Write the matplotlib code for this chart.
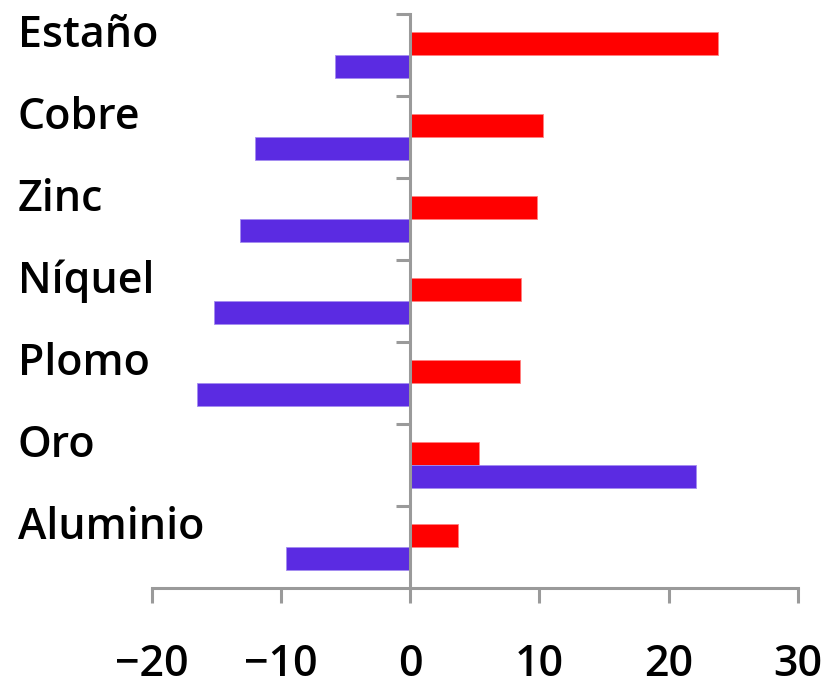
import numpy as np
import matplotlib
matplotlib.use("Agg")
import matplotlib.pyplot as plt
from matplotlib.transforms import blended_transform_factory

metales = ["Estaño", "Cobre", "Zinc", "Níquel", "Plomo", "Oro", "Aluminio"]
serie_roja = [23.8, 10.3, 9.8, 8.6, 8.5, 5.3, 3.7]
serie_azul = [-5.85, -12.0, -13.2, -15.2, -16.5, 22.1, -9.6]
xticks = [-20, -10, 0, 10, 20, 30]

plt.rcParams['font.family'] = ['Open Sans', 'DejaVu Sans']
plt.rcParams['font.weight'] = 'semibold'

fig = plt.figure(figsize=(8.31, 6.86), dpi=100)
ax = fig.add_axes([0.1826, 0.1429, 0.7774, 0.8367])

y = np.arange(len(metales))
h = 0.28
ax.barh(y - h / 2, serie_roja, height=h, color="#ff0000", edgecolor="#ff8080", linewidth=0.6)
ax.barh(y + h / 2, serie_azul, height=h, color="#5b2be2", edgecolor="#a48cf0", linewidth=0.6)

ax.set_ylim(len(metales) - 0.5, -0.5)
ax.set_xlim(-20, 30)

gris = "#9a9a9a"
for s in ["top", "right"]:
    ax.spines[s].set_visible(False)
ax.spines["left"].set_position(("data", 0))
ax.spines["left"].set_color(gris)
ax.spines["left"].set_linewidth(2.2)
ax.spines["bottom"].set_color(gris)
ax.spines["bottom"].set_linewidth(2.2)

ax.set_yticks(np.arange(len(metales)) - 0.5)
ax.set_yticklabels([])
ax.tick_params(axis="y", direction="out", length=10, width=2.2, color=gris)

ax.set_xticks(xticks)
ax.set_xticklabels([str(t).replace("-", "\u2212") for t in xticks])
ax.tick_params(axis="x", direction="out", length=10.5, width=2.2, color=gris,
               pad=29, labelsize=31)

trans = blended_transform_factory(fig.transFigure, ax.transData)
for i, m in enumerate(metales):
    ax.text(18 / 831, i - 0.24, m, transform=trans, fontsize=31,
            ha="left", va="center")

fig.savefig("out.png", dpi=100)
